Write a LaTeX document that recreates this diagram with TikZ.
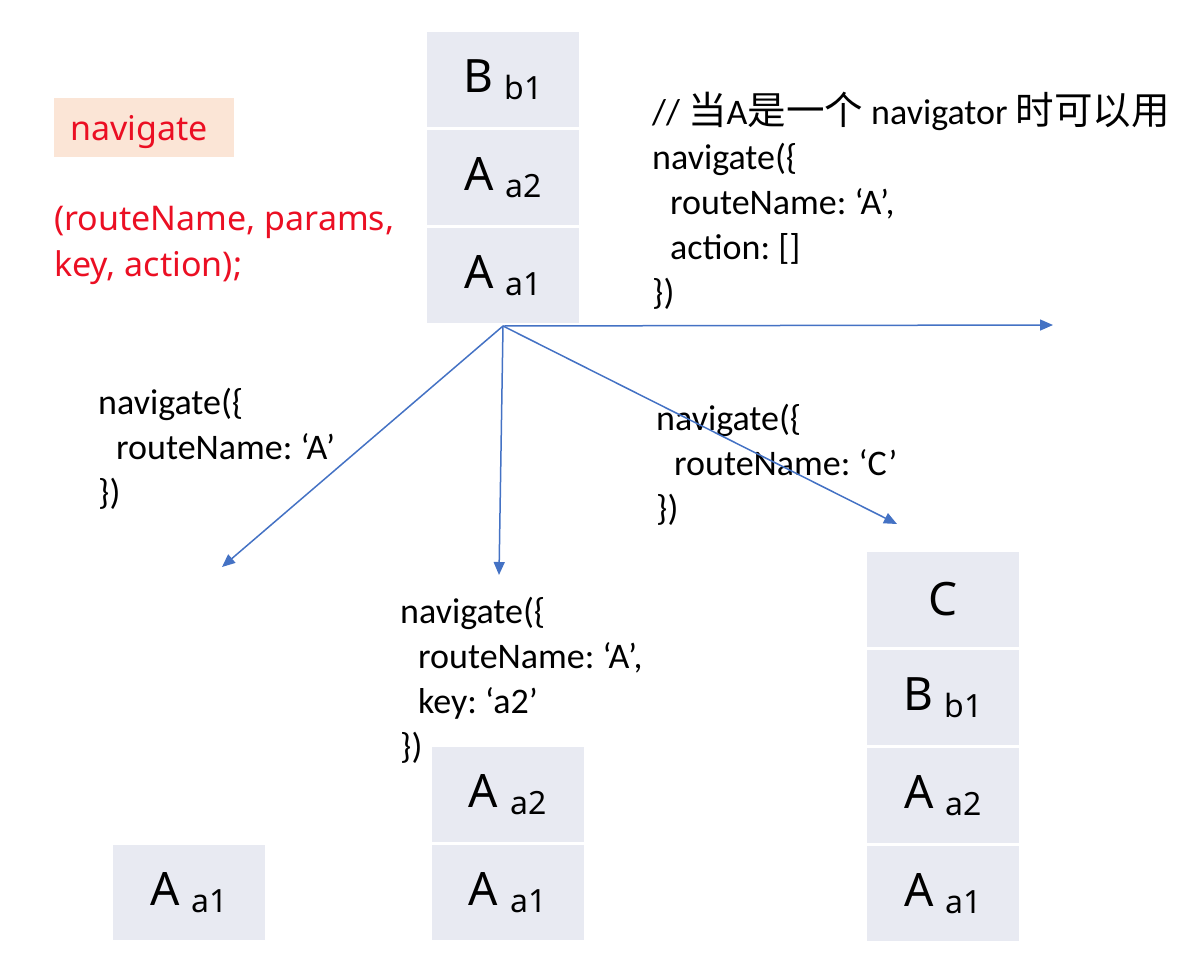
\documentclass[tikz,border=0pt]{standalone}
\usepackage{fontspec}
\setmainfont{Carlito}
\newfontfamily\cjk[Scale=1.07]{Noto Sans CJK SC}
\newfontfamily\pfont{Noto Sans}
\usetikzlibrary{positioning,arrows.meta}
\frenchspacing

\definecolor{stackgray}{RGB}{232,234,242}
\definecolor{navpeach}{RGB}{251,229,214}
\definecolor{navred}{RGB}{235,15,35}
\definecolor{arrowblue}{RGB}{68,114,196}

\newcommand{\frm}[2]{{\fontsize{46}{46}\selectfont #1 \raisebox{-7pt}{\fontsize{32}{32}\selectfont #2}}}
\newcommand{\ind}{\hspace*{18pt}}

\begin{document}
\begin{tikzpicture}[x=1pt,y=-1pt,
  stackbox/.style={fill=stackgray, minimum width=152pt, minimum height=95pt, inner sep=0pt, font=\pfont},
  code/.style={anchor=base west, align=left, inner sep=0pt, font=\fontsize{36}{45}\selectfont},
  redtext/.style={anchor=base west, align=left, inner sep=0pt, text=navred, font=\pfont\fontsize{34}{46}\selectfont},
  navbox/.style={fill=navpeach, text width=148pt, inner xsep=16pt, inner ysep=0pt, minimum height=59pt, text depth=0pt, align=left, text=navred, font=\pfont\fontsize{34}{34}\selectfont},
  link/.style={-{Triangle[length=13pt,width=11pt]}, color=arrowblue, line width=1.5pt},
  node distance=2.5pt]
\useasboundingbox (0,0) rectangle (1204,974);

% signature (multi-line nodes sit on their last line)
\node[navbox, anchor=north west] (navfn) at (54,98) {navigate};
\node[redtext] (navargs) at (54,276) {(routeName, params,\\key, action);};

% stack before
\node[stackbox] (tb1) at (503,79.5) {\frm{B}{b1}};
\node[stackbox, below=of tb1] (ta2) {\frm{A}{a2}};
\node[stackbox, below=of ta2] (ta1) {\frm{A}{a1}};

% calls
\node[code] (callaction) at (652,304) {// {\cjk 当}A{\cjk 是一个} navigator {\cjk 时可以用}\\navigate(\{\\\ind routeName: ‘A’,\\\ind action: []\\\})};
\node[code] (callname) at (98,504) {navigate(\{\\\ind routeName: ‘A’\\\})};
\node[code] (callkey) at (400,758) {navigate(\{\\\ind routeName: ‘A’,\\\ind key: ‘a2’\\\})};
\node[code] (callnew) at (656,520) {navigate(\{\\\ind routeName: ‘C’\\\})};

% stacks after
\node[stackbox] (la1) at (189,892.5) {\frm{A}{a1}};

\node[stackbox] (ka2) at (507.5,794.5) {\frm{A}{a2}};
\node[stackbox, below=of ka2] (ka1) {\frm{A}{a1}};

\node[stackbox] (cc) at (943,599.5) {{\fontsize{46}{46}\selectfont C}};
\node[stackbox, below=of cc] (cb1) {\frm{B}{b1}};
\node[stackbox, below=of cb1] (ca2) {\frm{A}{a2}};
\node[stackbox, below=of ca2] (ca1) {\frm{A}{a1}};

% arrows
\coordinate (fork) at ([yshift=-3pt]ta1.south);
\coordinate (endright) at (1053,325);
\coordinate (endleft) at (222,567);
\coordinate (enddown) at (499,575);
\coordinate (endc) at (897,524);

\draw[link] (fork) -- (endright);
\draw[link] (fork) -- (endleft);
\draw[link] (fork) -- (enddown);
\draw[link] (fork) -- (endc);
\end{tikzpicture}
\end{document}
